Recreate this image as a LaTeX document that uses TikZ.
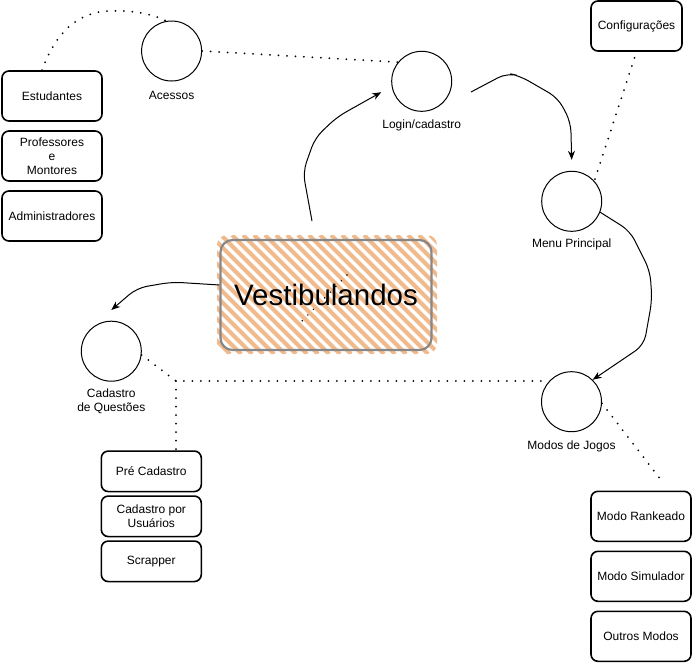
\documentclass[tikz,border=0pt]{standalone}
\usepackage{fontspec}
\setmainfont{Liberation Sans}
\usetikzlibrary{arrows.meta}
\definecolor{hach}{RGB}{240,186,140}
\definecolor{vborder}{RGB}{135,135,135}
\begin{document}
\begin{tikzpicture}[x=1pt,y=-1pt,
  circ/.style={circle, draw, line width=1pt, minimum size=60pt, inner sep=0pt},
  box/.style={draw, rounded corners=7pt, line width=1.6pt, minimum width=100pt, minimum height=50pt, align=center, inner sep=1pt, font=\fontsize{12}{14}\selectfont},
  lbl/.style={align=center, inner sep=0pt, font=\fontsize{12}{13.5}\selectfont},
  dots/.style={line width=2pt, dash pattern=on 0pt off 8.5pt, line cap=round},
  arr/.style={line width=1pt, -{Stealth[length=9pt,width=7pt]}, rounded corners=10pt}]
\useasboundingbox (0,0) rectangle (692,662);

% Vestibulandos hachure box
\begin{scope}
  \clip[rounded corners=10pt] (217,235) rectangle (437,354);
  \foreach \a in {-120,-109,...,440} {
    \draw[hach, line width=4.2pt] (\a,235) -- (\a+119,354);
  }
\end{scope}
\node[draw=vborder, line width=2.2pt, rounded corners=12pt, minimum width=211pt, minimum height=110pt, inner sep=0pt,
  font=\fontsize{29.5}{32}\selectfont] (vest) at (326,295) {Vestibulandos};
\draw[line width=1.6pt, dash pattern=on 0pt off 8pt, line cap=round] (347,275) -- (302,321);

% access boxes
\node[box] (est) at (52,96) {Estudantes};
\node[box] (prof) at (52,156) {Professores\\e\\Montores};
\node[box] (adm) at (52,216) {Administradores};
\node[box, minimum width=91pt] (conf) at (636.5,26) {Configurações};
\node[box, minimum height=40.5pt] (pre) at (151.3,471.3) {Pré Cadastro};
\node[box, minimum height=40.5pt] (cpu) at (151.3,516.3) {Cadastro por\\Usuários};
\node[box, minimum height=40.5pt] (scr) at (151.3,561.3) {Scrapper};
\node[box] (rank) at (641,516.3) {Modo Rankeado};
\node[box] (sim) at (641,576.3) {Modo Simulador};
\node[box] (out) at (641,636.3) {Outros Modos};

% circles
\node[circ] (acc) at (171.6,51) {};
\node[circ] (login) at (421.7,81.3) {};
\node[circ] (menu) at (571.7,201.3) {};
\node[circ] (modos) at (571.5,401.7) {};
\node[circ] (cadq) at (111.3,351.2) {};

\node[lbl] (accl) at (171.6,95) {Acessos};
\node[lbl] (loginl) at (421.7,125) {Login/cadastro};
\node[lbl] (menul) at (571.7,244) {Menu Principal};
\node[lbl] (modosl) at (571.5,446) {Modos de Jogos};
\node[lbl] (cadql) at (111.3,401.5) {Cadastro\\de Questões};

% coordinates for free ends
\coordinate (vs) at (312,221);
\coordinate (ls) at (471,92);
\coordinate (corner) at (176,381);
\coordinate (md) at (661,480);

% dotted connectors
\draw[dots] ([xshift=-10pt]est.north) .. controls (55,35) and (75,12) .. (110,11) .. controls (135,10) and (155,15) .. (acc.100);
\draw[dots] (acc.east) -- (login.141);
\draw[dots] ([shift={(-2,6)}]conf.south) -- (menu.42);
\draw[dots] (cadq.-7) -- (corner) -- (corner -| modos.west);
\draw[dots] (corner) -- (corner |- pre.north);
\draw[dots] (modos.-3) -- (md);

% arrows
\draw[arr] (vs) -- (303,172) -- (315,138) -- (337,117) -- ([shift={(-11,3)}]login.195);
\draw[arr] (ls) -- (507,73) -- (520,76) -- (558,98) -- (570.7,122) -- ([yshift=11pt]menu.north);
\draw[arr] (menu.-21) -- (630,231) -- (650,271) -- (652,300) -- (644,345) -- (modos.46);
\draw[arr] ([yshift=10pt]vest.west) -- (172,282) -- (137,288) -- ([yshift=10.7pt]cadq.north);
\end{tikzpicture}
\end{document}
